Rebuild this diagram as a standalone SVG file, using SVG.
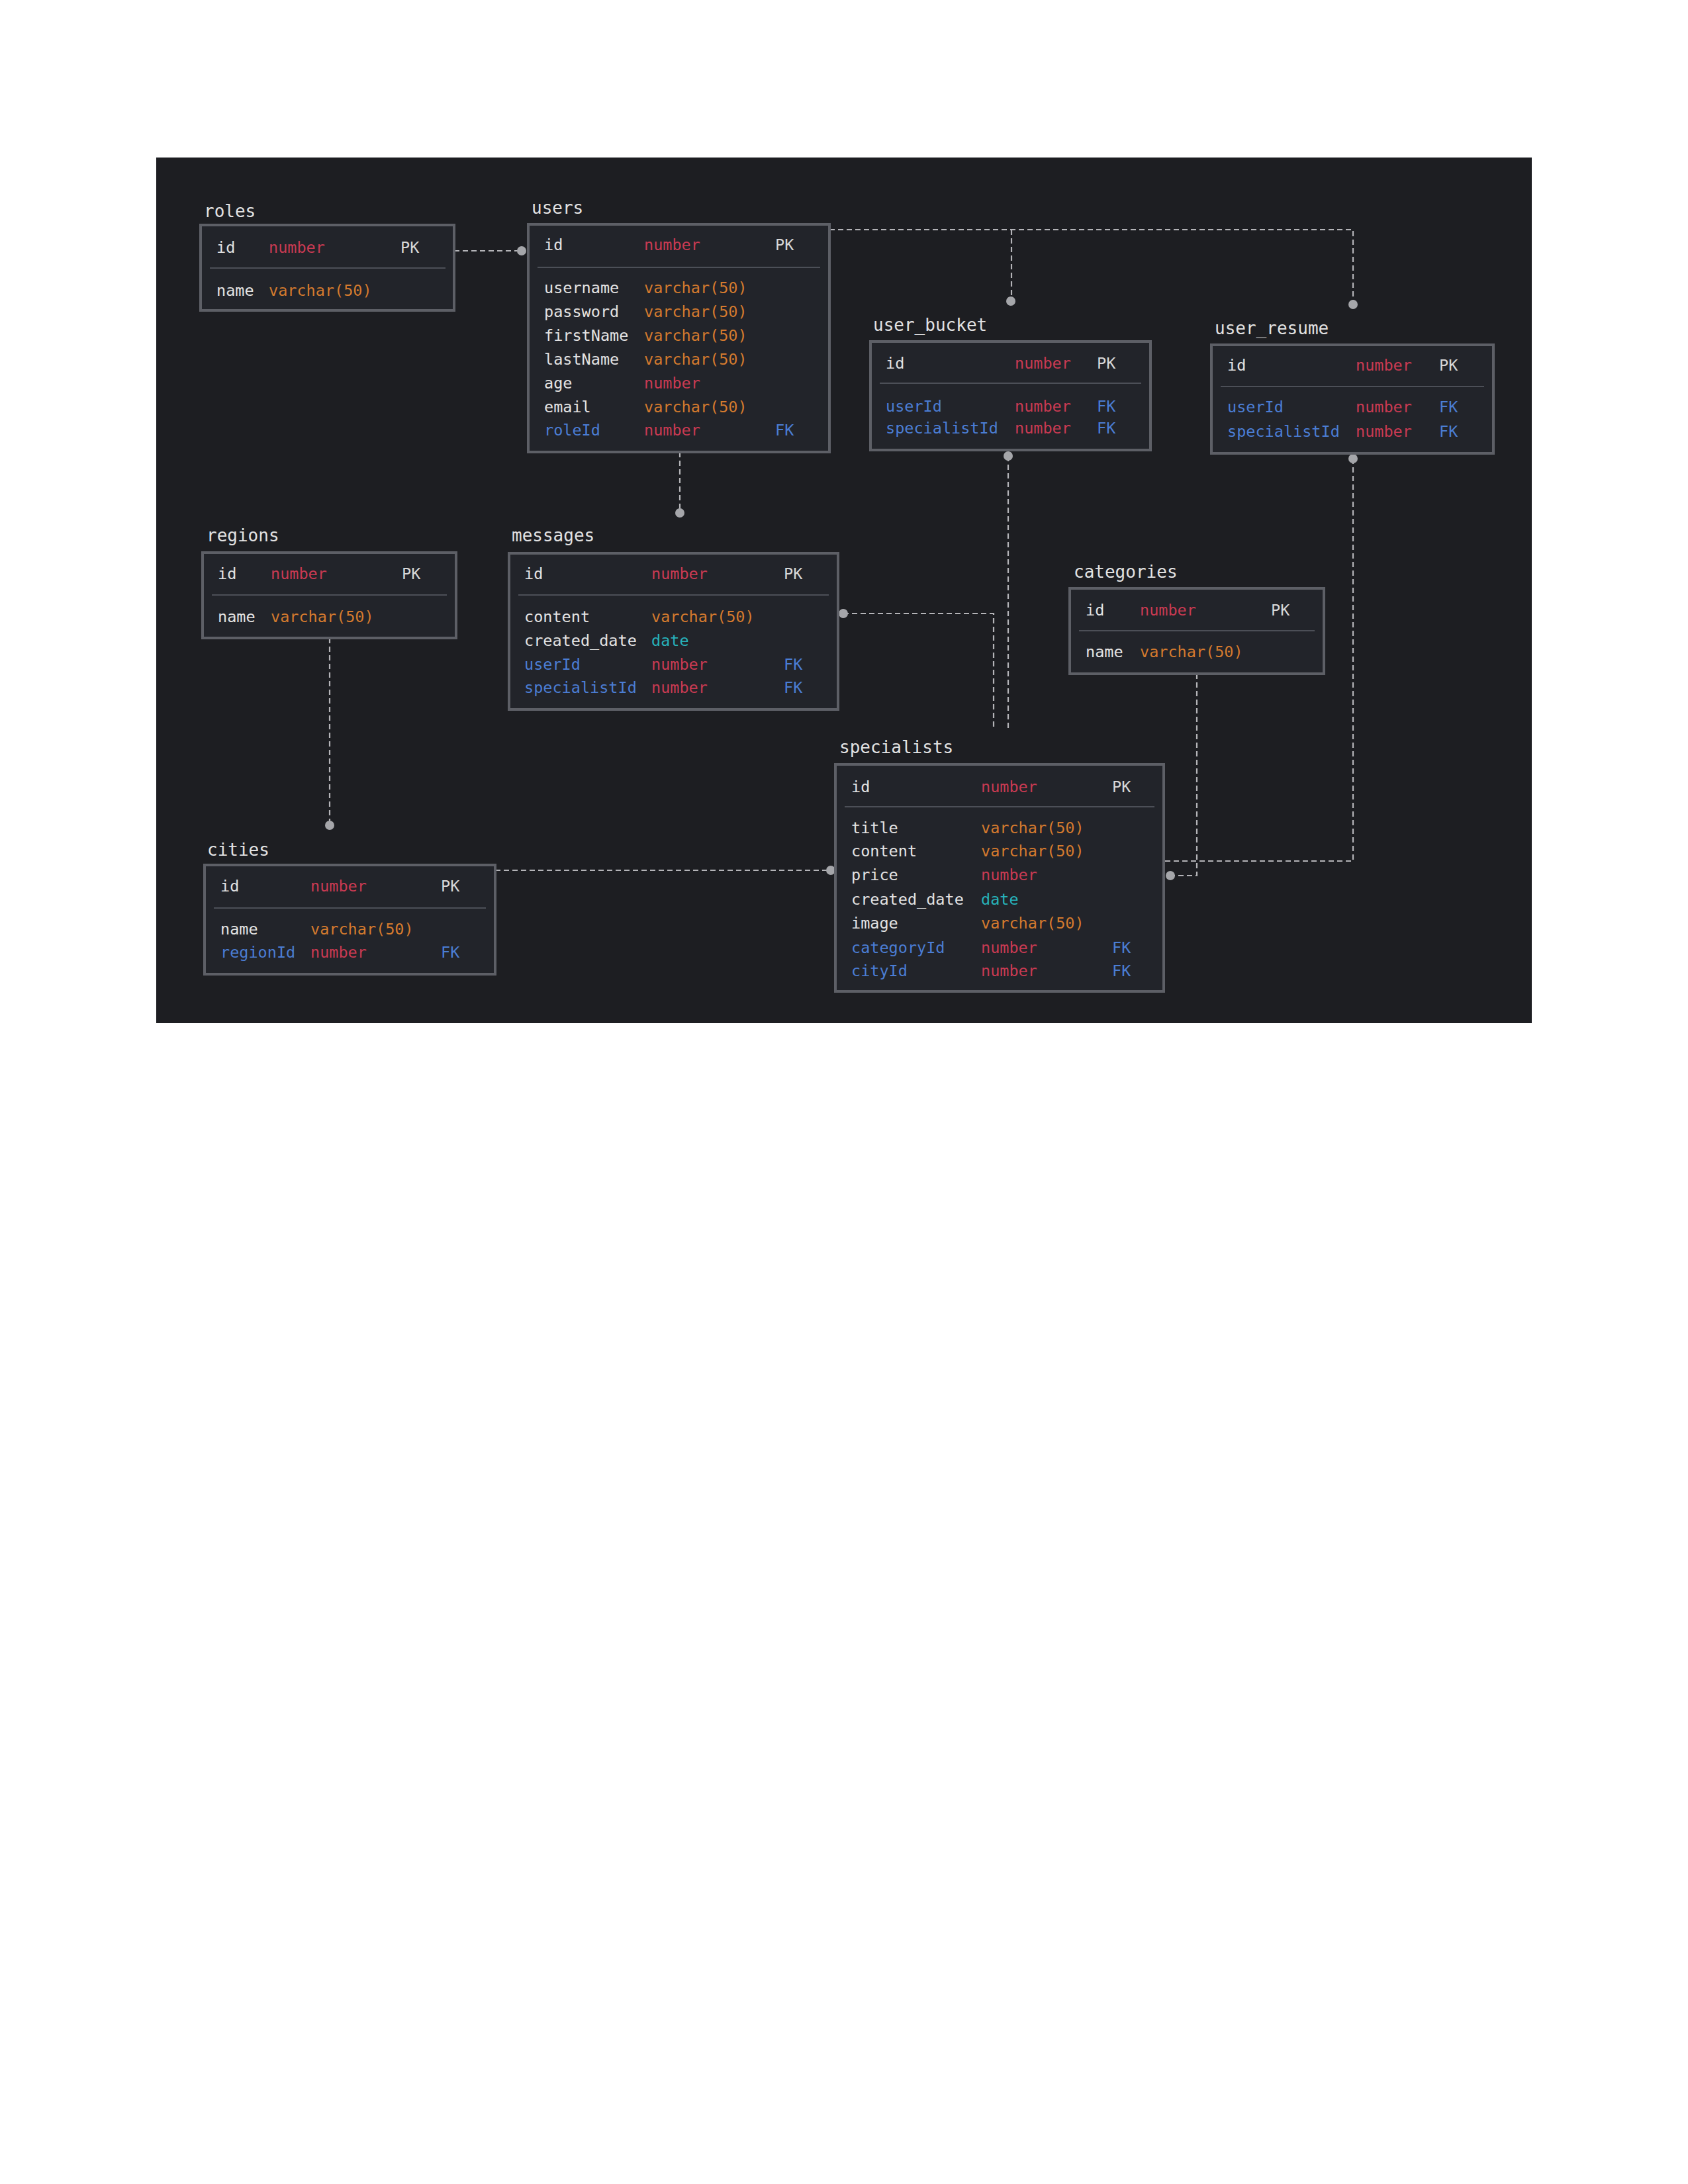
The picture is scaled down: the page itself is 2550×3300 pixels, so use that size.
<svg xmlns="http://www.w3.org/2000/svg" width="2550" height="3300" viewBox="0 0 2550 3300">
  <style>
    .panel { fill: #1d1e22; }
    .box { fill: #22242a; stroke: #5d5f66; stroke-width: 4; }
    .sep { stroke: #4c4f57; stroke-width: 2; }
    text { font-family: "DejaVu Sans Mono", "Liberation Mono", monospace; font-size: 23.5px; }
    .title { font-size: 26px; fill: #e2e2e2; }
    .f { fill: #e2e2e2; }
    .fk { fill: #4b7dd4; }
    .num { fill: #c93a52; }
    .vc { fill: #d47a2e; }
    .dt { fill: #27b2ba; }
    .pk { fill: #d8d8d8; }
    .link { fill: none; stroke: #b4b4b8; stroke-width: 2.2; stroke-dasharray: 8 5; }
    .dot { fill: #a5a6aa; }
  </style>

  <rect x="0" y="0" width="2550" height="3300" fill="#ffffff"/>
  <rect class="panel" x="236" y="238" width="2078" height="1308"/>

  <!-- relationship lines -->
  <g id="connectors">
    <path class="link" d="M686,379 H787"/>
    <circle class="dot" cx="788" cy="379" r="7"/>

    <path class="link" d="M1253,347 H2044 V460"/>
    <path class="link" d="M1528,347 V455"/>
    <circle class="dot" cx="1527" cy="455" r="7"/>
    <circle class="dot" cx="2044" cy="460" r="7"/>

    <path class="link" d="M1027,683 V775"/>
    <circle class="dot" cx="1027" cy="775" r="7"/>

    <path class="link" d="M1523,689 V1103"/>
    <circle class="dot" cx="1523" cy="689" r="7"/>

    <path class="link" d="M1274,927 H1501 V1103"/>
    <circle class="dot" cx="1274" cy="927" r="7"/>

    <path class="link" d="M2044,693 V1301 H1760"/>
    <circle class="dot" cx="2044" cy="693" r="7"/>

    <path class="link" d="M1808,1018 V1323 H1768"/>
    <circle class="dot" cx="1768" cy="1323" r="7"/>

    <path class="link" d="M498,964 V1247"/>
    <circle class="dot" cx="498" cy="1247" r="7"/>

    <path class="link" d="M748,1315 H1254"/>
    <circle class="dot" cx="1255" cy="1315" r="7"/>
  </g>

  <!-- roles -->
  <g id="roles">
    <text class="title" x="308" y="328">roles</text>
    <rect class="box" x="303" y="340" width="383" height="129"/>
    <text class="f" x="327" y="382">id</text>
    <text class="num" x="406" y="382">number</text>
    <text class="pk" x="605" y="382">PK</text>
    <line class="sep" x1="317" y1="405" x2="673" y2="405"/>
    <text class="f" x="327" y="447">name</text>
    <text class="vc" x="406" y="447">varchar(50)</text>
  </g>

  <!-- users -->
  <g id="users">
    <text class="title" x="803" y="323">users</text>
    <rect class="box" x="798" y="339" width="455" height="344"/>
    <text class="f" x="822" y="378">id</text>
    <text class="num" x="973" y="378">number</text>
    <text class="pk" x="1171" y="378">PK</text>
    <line class="sep" x1="812" y1="404" x2="1239" y2="404"/>
    <text class="f" x="822" y="443">username</text>
    <text class="vc" x="973" y="443">varchar(50)</text>
    <text class="f" x="822" y="479">password</text>
    <text class="vc" x="973" y="479">varchar(50)</text>
    <text class="f" x="822" y="515">firstName</text>
    <text class="vc" x="973" y="515">varchar(50)</text>
    <text class="f" x="822" y="551">lastName</text>
    <text class="vc" x="973" y="551">varchar(50)</text>
    <text class="f" x="822" y="587">age</text>
    <text class="num" x="973" y="587">number</text>
    <text class="f" x="822" y="623">email</text>
    <text class="vc" x="973" y="623">varchar(50)</text>
    <text class="fk" x="822" y="658">roleId</text>
    <text class="num" x="973" y="658">number</text>
    <text class="fk" x="1171" y="658">FK</text>
  </g>

  <!-- user_bucket -->
  <g id="user_bucket">
    <text class="title" x="1319" y="500">user_bucket</text>
    <rect class="box" x="1315" y="516" width="423" height="164"/>
    <text class="f" x="1338" y="557">id</text>
    <text class="num" x="1533" y="557">number</text>
    <text class="pk" x="1657" y="557">PK</text>
    <line class="sep" x1="1329" y1="579" x2="1724" y2="579"/>
    <text class="fk" x="1338" y="622">userId</text>
    <text class="num" x="1533" y="622">number</text>
    <text class="fk" x="1657" y="622">FK</text>
    <text class="fk" x="1338" y="655">specialistId</text>
    <text class="num" x="1533" y="655">number</text>
    <text class="fk" x="1657" y="655">FK</text>
  </g>

  <!-- user_resume -->
  <g id="user_resume">
    <text class="title" x="1835" y="505">user_resume</text>
    <rect class="box" x="1830" y="521" width="426" height="164"/>
    <text class="f" x="1854" y="560">id</text>
    <text class="num" x="2048" y="560">number</text>
    <text class="pk" x="2174" y="560">PK</text>
    <line class="sep" x1="1844" y1="584" x2="2242" y2="584"/>
    <text class="fk" x="1854" y="623">userId</text>
    <text class="num" x="2048" y="623">number</text>
    <text class="fk" x="2174" y="623">FK</text>
    <text class="fk" x="1854" y="660">specialistId</text>
    <text class="num" x="2048" y="660">number</text>
    <text class="fk" x="2174" y="660">FK</text>
  </g>

  <!-- regions -->
  <g id="regions">
    <text class="title" x="312" y="818">regions</text>
    <rect class="box" x="306" y="835" width="383" height="129"/>
    <text class="f" x="329" y="875">id</text>
    <text class="num" x="409" y="875">number</text>
    <text class="pk" x="607" y="875">PK</text>
    <line class="sep" x1="320" y1="899" x2="675" y2="899"/>
    <text class="f" x="329" y="940">name</text>
    <text class="vc" x="409" y="940">varchar(50)</text>
  </g>

  <!-- messages -->
  <g id="messages">
    <text class="title" x="773" y="818">messages</text>
    <rect class="box" x="769" y="836" width="497" height="236"/>
    <text class="f" x="792" y="875">id</text>
    <text class="num" x="984" y="875">number</text>
    <text class="pk" x="1184" y="875">PK</text>
    <line class="sep" x1="783" y1="899" x2="1252" y2="899"/>
    <text class="f" x="792" y="940">content</text>
    <text class="vc" x="984" y="940">varchar(50)</text>
    <text class="f" x="792" y="976">created_date</text>
    <text class="dt" x="984" y="976">date</text>
    <text class="fk" x="792" y="1012">userId</text>
    <text class="num" x="984" y="1012">number</text>
    <text class="fk" x="1184" y="1012">FK</text>
    <text class="fk" x="792" y="1047">specialistId</text>
    <text class="num" x="984" y="1047">number</text>
    <text class="fk" x="1184" y="1047">FK</text>
  </g>

  <!-- categories -->
  <g id="categories">
    <text class="title" x="1622" y="873">categories</text>
    <rect class="box" x="1616" y="889" width="384" height="129"/>
    <text class="f" x="1640" y="930">id</text>
    <text class="num" x="1722" y="930">number</text>
    <text class="pk" x="1920" y="930">PK</text>
    <line class="sep" x1="1630" y1="953" x2="1986" y2="953"/>
    <text class="f" x="1640" y="993">name</text>
    <text class="vc" x="1722" y="993">varchar(50)</text>
  </g>

  <!-- specialists -->
  <g id="specialists">
    <text class="title" x="1268" y="1138">specialists</text>
    <rect class="box" x="1262" y="1155" width="496" height="343"/>
    <text class="f" x="1286" y="1197">id</text>
    <text class="num" x="1482" y="1197">number</text>
    <text class="pk" x="1680" y="1197">PK</text>
    <line class="sep" x1="1276" y1="1219" x2="1744" y2="1219"/>
    <text class="f" x="1286" y="1259">title</text>
    <text class="vc" x="1482" y="1259">varchar(50)</text>
    <text class="f" x="1286" y="1294">content</text>
    <text class="vc" x="1482" y="1294">varchar(50)</text>
    <text class="f" x="1286" y="1330">price</text>
    <text class="num" x="1482" y="1330">number</text>
    <text class="f" x="1286" y="1367">created_date</text>
    <text class="dt" x="1482" y="1367">date</text>
    <text class="f" x="1286" y="1403">image</text>
    <text class="vc" x="1482" y="1403">varchar(50)</text>
    <text class="fk" x="1286" y="1440">categoryId</text>
    <text class="num" x="1482" y="1440">number</text>
    <text class="fk" x="1680" y="1440">FK</text>
    <text class="fk" x="1286" y="1475">cityId</text>
    <text class="num" x="1482" y="1475">number</text>
    <text class="fk" x="1680" y="1475">FK</text>
  </g>

  <!-- cities -->
  <g id="cities">
    <text class="title" x="313" y="1293">cities</text>
    <rect class="box" x="309" y="1307" width="439" height="165"/>
    <text class="f" x="333" y="1347">id</text>
    <text class="num" x="469" y="1347">number</text>
    <text class="pk" x="666" y="1347">PK</text>
    <line class="sep" x1="323" y1="1372" x2="734" y2="1372"/>
    <text class="f" x="333" y="1412">name</text>
    <text class="vc" x="469" y="1412">varchar(50)</text>
    <text class="fk" x="333" y="1447">regionId</text>
    <text class="num" x="469" y="1447">number</text>
    <text class="fk" x="666" y="1447">FK</text>
  </g>
</svg>
